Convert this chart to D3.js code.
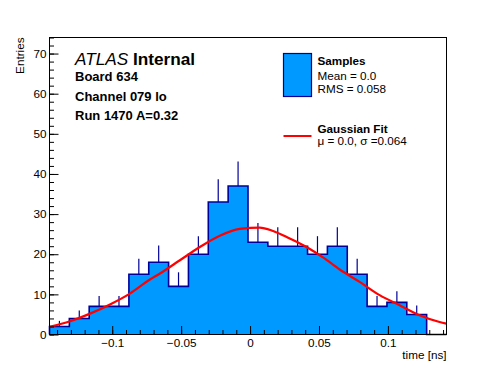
<!DOCTYPE html>
<html><head><meta charset="utf-8">
<script src="https://cdn.jsdelivr.net/npm/d3@7"></script>
<style>body{margin:0;background:#fff}svg{display:block}text{font-family:"Liberation Sans",Arial,Helvetica,sans-serif}</style>
</head><body>
<script>
// ---- data ----
const binRange = [-0.1455, 0.1425];           // histogram axis range (ns)
const counts = [2,4,7,7,15,18,12,20,33,37,23,22,22,20,22,15,7,8,5,0];
const errors = [1.4,2.0,2.6,2.6,3.9,4.2,3.5,4.5,5.7,6.1,4.8,4.7,4.7,4.5,4.7,3.9,2.6,2.8,2.2,0];
const fitT = [-0.1455,-0.1306,-0.1161,-0.1016,-0.0872,-0.0727,-0.0654,-0.0509,-0.0364,-0.0220,-0.0075,0.0070,0.0167,0.0288,0.0409,0.0529,0.0650,0.0795,0.0940,0.1085,0.1230,0.1375,0.1425];
const fitY = [1.9,3.3,5.2,7.5,10.2,13.7,15.2,18.5,21.8,24.6,26.3,26.65,25.8,23.9,21.8,19.2,16.2,13.1,9.8,7.3,4.8,3.1,2.7];
const xMajor = [-0.1,-0.05,0,0.05,0.1];
const xMajorLabels = ["\u22120.1","\u22120.05","0","0.05","0.1"];
const xMinor = d3.range(-14,15).map(d=>d/100);
const yMajor = [0,10,20,30,40,50,60,70];
const yMinor = d3.range(0,75,2);
const yMax = 74;
const infoLines = ["Board 634","Channel 079 lo","Run 1470 A=0.32"];

const W=496,H=372;
const L=49.5,R=446.5,T=37.5,B=334.5;
const fill="#0099ff", edge="#000099";

const svg=d3.select("body").append("svg").attr("width",W).attr("height",H);
const x=d3.scaleLinear().domain(binRange).range([L,R]);
const y=d3.scaleLinear().domain([0,yMax]).range([B,T]);
const nb=counts.length, bw=(binRange[1]-binRange[0])/nb;
const bins=counts.map((c,i)=>({lo:binRange[0]+i*bw,hi:binRange[0]+(i+1)*bw,c,e:errors[i]}));

// step outline points
let pts=[[x(bins[0].lo),y(0)]];
bins.forEach(b=>{pts.push([x(b.lo),y(b.c)]);pts.push([x(b.hi),y(b.c)]);});
pts.push([x(bins[nb-1].hi),y(0)]);

// bars fill (single shape, no seams)
svg.append("path").attr("d",d3.line()(pts)+"Z").attr("fill",fill);

// error bars (upper half visible)
svg.append("g").selectAll("line").data(bins.filter(b=>b.c>0)).join("line")
  .attr("x1",d=>x((d.lo+d.hi)/2)).attr("x2",d=>x((d.lo+d.hi)/2))
  .attr("y1",d=>y(d.c)).attr("y2",d=>y(d.c+d.e))
  .attr("stroke",edge).attr("stroke-width",1.2);

// outline
svg.append("path").attr("d",d3.line()(pts)).attr("fill","none").attr("stroke",edge).attr("stroke-width",1.6);

// fit curve
svg.append("path").datum(fitT.map((t,i)=>[t,fitY[i]]))
  .attr("d",d3.line().x(d=>x(d[0])).y(d=>y(d[1])).curve(d3.curveMonotoneX))
  .attr("fill","none").attr("stroke","#ff0000").attr("stroke-width",2.2);

// axes
const fs=11.7;
const gx=svg.append("g").attr("transform",`translate(0,${B})`);
gx.append("g").call(d3.axisBottom(x).tickValues(xMinor).tickSize(-4.5).tickFormat(""));
gx.append("g").call(d3.axisBottom(x).tickValues(xMajor).tickSize(-8.5).tickPadding(4.3)
  .tickFormat((d,i)=>xMajorLabels[i]));
const gy=svg.append("g").attr("transform",`translate(${L},0)`);
gy.append("g").call(d3.axisLeft(y).tickValues(yMinor).tickSize(-4.5).tickFormat(""));
gy.append("g").call(d3.axisLeft(y).tickValues(yMajor).tickSize(-9).tickPadding(3));
svg.selectAll(".domain").remove();
svg.selectAll(".tick line").attr("stroke","#000");
svg.selectAll(".tick text").attr("font-size",fs).attr("font-family","Liberation Sans, Arial, sans-serif").attr("fill","#000");

// frame
svg.append("rect").attr("x",L).attr("y",T).attr("width",R-L).attr("height",B-T)
  .attr("fill","none").attr("stroke","#000").attr("stroke-width",1);

// axis titles
svg.append("text").attr("x",R).attr("y",359).attr("text-anchor","end").attr("font-size",fs).text("time [ns]");
svg.append("text").attr("transform",`translate(23.5,${T})rotate(-90)`).attr("text-anchor","end").attr("font-size",fs).text("Entries");

// ATLAS label
const at=svg.append("text").attr("x",75).attr("y",65).attr("font-size",17.2);
at.append("tspan").attr("font-style","italic").text("ATLAS");
at.append("tspan").attr("font-weight","bold").text(" Internal");
const infoY=[81,101,120];
infoLines.forEach((s,i)=>svg.append("text").attr("x",75).attr("y",infoY[i]).attr("font-size",13).attr("font-weight","bold").text(s));

// legend
svg.append("rect").attr("x",283.5).attr("y",53.5).attr("width",28).attr("height",43)
  .attr("fill",fill).attr("stroke",edge).attr("stroke-width",1.2);
svg.append("text").attr("x",317.5).attr("y",65).attr("font-size",fs).attr("font-weight","bold").text("Samples");
svg.append("text").attr("x",317.5).attr("y",80).attr("font-size",fs).text("Mean = 0.0");
svg.append("text").attr("x",317.5).attr("y",93.3).attr("font-size",fs).text("RMS = 0.058");
svg.append("line").attr("x1",283.5).attr("x2",311.5).attr("y1",136).attr("y2",136).attr("stroke","#ff0000").attr("stroke-width",2);
svg.append("text").attr("x",317.5).attr("y",132.7).attr("font-size",fs).attr("font-weight","bold").text("Gaussian Fit");
svg.append("text").attr("x",317.5).attr("y",144.5).attr("font-size",fs).text("\u03bc = 0.0, \u03c3 =0.064");
</script>
</body></html>
